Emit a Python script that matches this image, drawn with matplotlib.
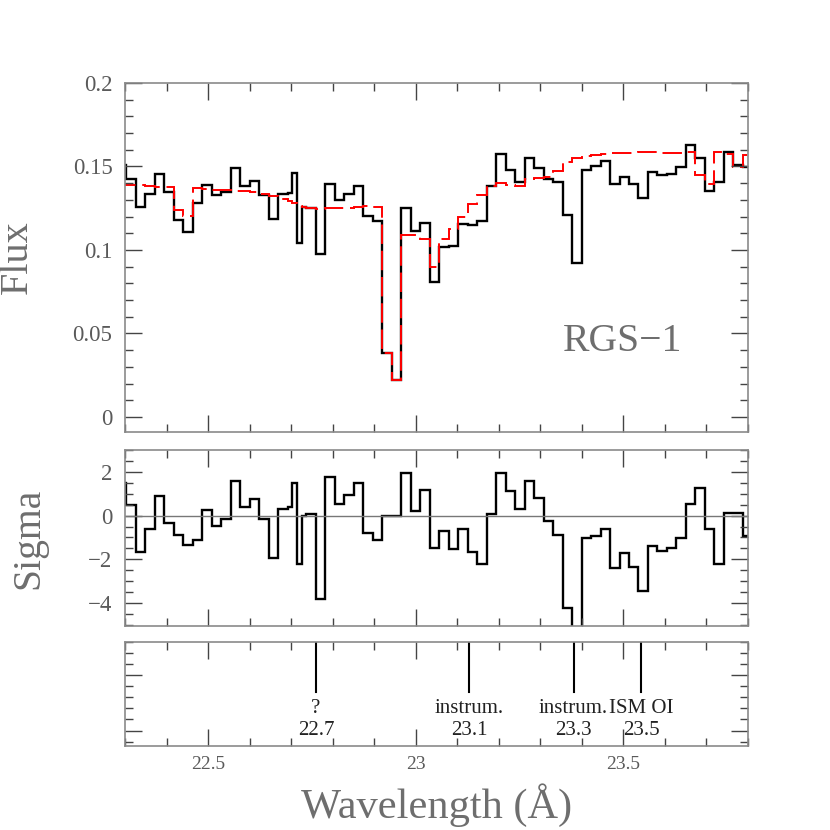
import numpy as np
import matplotlib
matplotlib.use('Agg')
import matplotlib.pyplot as plt
from matplotlib.ticker import MultipleLocator, FuncFormatter
import matplotlib.transforms as mtransforms

plt.rcParams['font.family'] = ['Liberation Serif', 'DejaVu Serif']

# wavelength grid: uniform bins, with two bins split in half near 22.7 A
lam0 = 22.303
dlam = 0.02284
bin_index = [-1] + list(range(0, 18)) + [17.5, 18, 18.5] + list(range(19, 67))
edges = lam0 + dlam * np.array(bin_index)

# observed RGS-1 flux (black)
flux = [0.1506, 0.1427, 0.1258, 0.1333, 0.1456, 0.1347, 0.1179, 0.1109, 0.1284,
        0.1391, 0.1327, 0.1347, 0.1492, 0.1383, 0.1413, 0.1327, 0.1184, 0.1337,
        0.1340, 0.1460, 0.1040, 0.1258,
        0.1250, 0.0974, 0.1397, 0.1298, 0.1333, 0.1383, 0.1204, 0.1175, 0.0385,
        0.0222, 0.1252, 0.1115, 0.1159, 0.0808, 0.1015, 0.1026, 0.1155, 0.1149,
        0.1175, 0.1383, 0.1573, 0.1481, 0.1407, 0.1552, 0.1492, 0.1423, 0.1407,
        0.1208, 0.0925, 0.1482, 0.1500, 0.1532, 0.1393, 0.1440, 0.1397, 0.1312,
        0.1466, 0.1450, 0.1456, 0.1496, 0.1631, 0.1552, 0.1351, 0.1407, 0.1585,
        0.1506, 0.1496]

# model (red dashed)
model = [0.1395, 0.1391, 0.1389, 0.1385, 0.1380, 0.1377, 0.1238, 0.1202, 0.1371,
         0.1367, 0.1362, 0.1357, 0.1355, 0.1352, 0.1347, 0.1337, 0.1325, 0.1305,
         0.1292, 0.1282, 0.1262, 0.1258,
         0.1252, 0.1248, 0.1250, 0.1252, 0.1254, 0.1258, 0.1262, 0.1258, 0.0385,
         0.0222, 0.1092, 0.1087, 0.1063, 0.0897, 0.1063, 0.1127, 0.1196, 0.1275,
         0.1329, 0.1383, 0.1403, 0.1391, 0.1383, 0.1423, 0.1433, 0.1440, 0.1475,
         0.1525, 0.1550, 0.1563, 0.1569, 0.1575, 0.1578, 0.1580, 0.1582, 0.1584,
         0.1584, 0.1580, 0.1578, 0.1580, 0.1585, 0.1452, 0.1397, 0.1585, 0.1577,
         0.1496, 0.1569]

# residuals in sigma
sigma = [1.47, 0.50, -1.66, -0.63, 0.90, -0.34, -0.87, -1.33, -1.10,
         0.26, -0.46, -0.14, 1.59, 0.40, 0.78, -0.14, -1.92, 0.32,
         0.40, 1.50, -2.20, -0.02,
         0.06, -3.83, 1.77, 0.52, 0.93, 1.51, -0.78, -1.13, -0.03,
         -0.02, 1.97, 0.21, 1.19, -1.47, -0.72, -1.53, -0.60, -1.68,
         -2.23, 0.06, 1.95, 1.11, 0.32, 1.57, 0.82, -0.26, -0.87,
         -4.21, -7.0, -1.02, -0.93, -0.60, -2.38, -1.71, -2.37, -3.45,
         -1.40, -1.63, -1.48, -1.02, 0.55, 1.24, -0.63, -2.23, 0.11,
         0.11, -0.92]

# line identifications
line_wave = [22.760, 23.129, 23.380, 23.543]
line_name = ['?', 'instrum.', 'instrum.', 'ISM OI']
line_tag = ['22.7', '23.1', '23.3', '23.5']

grey_txt = '#5a5a5a'
grey_lab = '#6e6e6e'
frame = '#8a8a8a'

fig = plt.figure(figsize=(8.3, 8.3), dpi=100)
fig.patch.set_facecolor('white')
ax1 = fig.add_axes([0.1506, 0.4795, 0.7506, 0.4205])
ax2 = fig.add_axes([0.1506, 0.2458, 0.7506, 0.2120])
ax3 = fig.add_axes([0.1506, 0.1012, 0.7506, 0.1253])

fmt = FuncFormatter(lambda v, p: '%g' % v if abs(v) > 1e-9 else '0')

for ax in (ax1, ax2, ax3):
    ax.set_xlim(22.3, 23.8)
    ax.xaxis.set_major_locator(MultipleLocator(0.5))
    ax.xaxis.set_minor_locator(MultipleLocator(0.1))
    ax.tick_params(which='both', direction='in', top=True, right=True,
                   color='#444444', width=1.0)
    ax.tick_params(which='major', length=12)
    ax.tick_params(which='minor', length=6)
    ax.tick_params(axis='y', labelsize=16.5, labelcolor=grey_txt, pad=9)
    ax.tick_params(axis='x', labelsize=14, labelcolor=grey_txt, pad=7)
    for s in ax.spines.values():
        s.set_color(frame)
        s.set_linewidth(1.2)

# top: flux
ax1.stairs(flux, edges, color='black', lw=1.7, baseline=None)
ax1.stairs(model, edges, color='red', lw=1.4, baseline=None, linestyle=(0, (10, 3.5)))
ax1.set_ylim(-0.009, 0.2)
ax1.yaxis.set_major_locator(MultipleLocator(0.05))
ax1.yaxis.set_minor_locator(MultipleLocator(0.01))
ax1.yaxis.set_major_formatter(fmt)
ax1.set_xticklabels([])
ax1.set_ylabel('Flux', fontsize=29, color=grey_lab)
ax1.yaxis.set_label_coords(-0.143, 0.5)
ax1.text(23.355, 0.0455, 'RGS\u22121', fontsize=28.5, color=grey_lab,
         ha='left', va='center')

# middle: sigma
ax2.axhline(0, color='#777777', lw=1.0)
ax2.stairs(sigma, edges, color='black', lw=1.7, baseline=None)
ax2.set_ylim(-5.05, 3.0)
ax2.yaxis.set_major_locator(MultipleLocator(2))
ax2.yaxis.set_minor_locator(MultipleLocator(0.5))
ax2.set_xticklabels([])
ax2.set_ylabel('Sigma', fontsize=28.5, color=grey_lab)
ax2.yaxis.set_label_coords(-0.124, 0.5)

# bottom: line ids
ax3.set_ylim(-0.28, 1.6)
ax3.yaxis.set_major_locator(MultipleLocator(1))
ax3.yaxis.set_minor_locator(MultipleLocator(0.2))
ax3.set_yticklabels([])
ax3.xaxis.set_major_formatter(fmt)
trans = mtransforms.blended_transform_factory(ax3.transData, ax3.transAxes)
for w, name, tag in zip(line_wave, line_name, line_tag):
    ax3.axvline(w, ymin=0.52, ymax=1.0, color='black', lw=1.5)
    ax3.text(w, 0.36, name, transform=trans, ha='center', va='center',
             fontsize=15, color='#222222')
    ax3.text(w, 0.145, tag, transform=trans, ha='center', va='center',
             fontsize=15, color='#222222')

fig.text(0.5265, 0.0145, 'Wavelength (\u00c5)', fontsize=30.5, color=grey_lab,
         ha='center', va='baseline')

fig.savefig('out.png', dpi=100, facecolor='white')
